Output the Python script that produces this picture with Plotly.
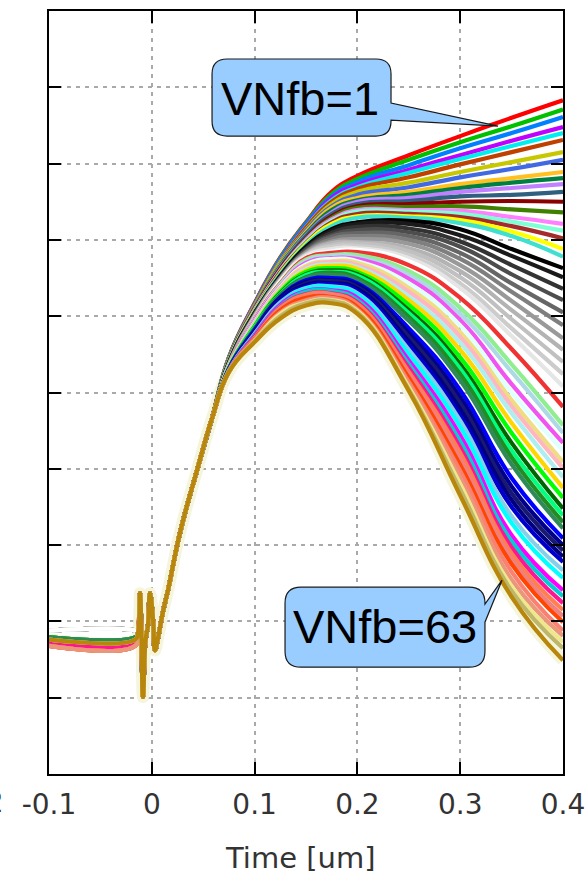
import plotly.graph_objects as go

# ---- time base (um) ----
time_onset = [-0.1, -0.0163, -0.0134, -0.0115, -0.0100, -0.0086, -0.0061, -0.0037,
              -0.0018, 0.0012, 0.0031, 0.0060, 0.0109, 0.0158, 0.0274, 0.0440, 0.0586]
time_tail = [0.075, 0.1, 0.125, 0.15, 0.175, 0.2, 0.25, 0.3, 0.35, 0.4]

# common pick-up glitch and leading edge (from t = -0.0134 to 0.0586)
onset_shared = [1.85, 2.37, 1.75, 1.01, 1.75, 1.95, 2.37, 2.02, 1.62, 1.78,
                2.13, 2.41, 3.16, 3.98, 4.66]

# pre-trigger baseline of each VNfb setting (1..63)
baseline = [1.78, 1.78, 1.78, 1.78, 1.78, 1.78, 1.78, 1.78, 1.78, 1.78,
            1.78, 1.78, 1.78, 1.78, 1.78, 1.78, 1.78, 1.78, 1.78,
            1.88, 1.88, 1.88, 1.88, 1.88, 1.88, 1.88, 1.88, 1.88, 1.88, 1.88, 1.88,
            1.79, 1.79, 1.79, 1.79, 1.79, 1.79, 1.79, 1.79, 1.79, 1.79, 1.79, 1.79, 1.79, 1.79,
            1.72, 1.72, 1.72, 1.72, 1.72, 1.72, 1.72, 1.72, 1.72, 1.72,
            1.68, 1.68, 1.68, 1.68, 1.68,
            1.76, 1.76, 1.76]

# shaper output after the leading edge, VNfb = 1..19
tail_upper = [
    [5.46, 6.17, 6.77, 7.23, 7.63, 7.84, 8.11, 8.36, 8.60, 8.83],
    [5.46, 6.16, 6.76, 7.22, 7.60, 7.80, 8.05, 8.28, 8.49, 8.71],
    [5.45, 6.16, 6.75, 7.21, 7.57, 7.76, 7.98, 8.20, 8.40, 8.61],
    [5.45, 6.15, 6.73, 7.18, 7.55, 7.72, 7.92, 8.11, 8.30, 8.48],
    [5.44, 6.14, 6.72, 7.17, 7.52, 7.69, 7.88, 8.06, 8.23, 8.40],
    [5.44, 6.14, 6.71, 7.16, 7.50, 7.67, 7.82, 7.99, 8.15, 8.31],
    [5.44, 6.13, 6.70, 7.13, 7.47, 7.63, 7.75, 7.89, 8.02, 8.15],
    [5.43, 6.12, 6.68, 7.12, 7.44, 7.59, 7.69, 7.82, 7.93, 8.05],
    [5.43, 6.12, 6.67, 7.10, 7.42, 7.55, 7.63, 7.73, 7.81, 7.89],
    [5.43, 6.11, 6.66, 7.08, 7.39, 7.52, 7.59, 7.68, 7.75, 7.81],
    [5.42, 6.10, 6.64, 7.06, 7.36, 7.50, 7.55, 7.63, 7.68, 7.73],
    [5.42, 6.10, 6.63, 7.05, 7.34, 7.47, 7.51, 7.57, 7.59, 7.63],
    [5.42, 6.09, 6.62, 7.02, 7.31, 7.44, 7.47, 7.50, 7.51, 7.50],
    [5.41, 6.08, 6.60, 7.01, 7.29, 7.42, 7.43, 7.44, 7.40, 7.36],
    [5.41, 6.08, 6.60, 7.00, 7.27, 7.39, 7.39, 7.38, 7.30, 7.21],
    [5.41, 6.07, 6.59, 6.98, 7.25, 7.37, 7.37, 7.34, 7.24, 7.12],
    [5.40, 6.06, 6.58, 6.96, 7.23, 7.34, 7.34, 7.30, 7.18, 7.02],
    [5.40, 6.06, 6.56, 6.95, 7.21, 7.31, 7.31, 7.26, 7.11, 6.88],
    [5.40, 6.05, 6.55, 6.93, 7.18, 7.29, 7.29, 7.22, 7.05, 6.78],
]

# VNfb = 20..31 (grey ramp)
tail_grey = [
    [5.39, 6.04, 6.53, 6.91, 7.14, 7.23, 7.25, 7.14, 6.88, 6.63],
    [5.39, 6.03, 6.51, 6.89, 7.12, 7.21, 7.21, 7.06, 6.79, 6.51],
    [5.37, 6.03, 6.51, 6.88, 7.09, 7.17, 7.15, 6.98, 6.67, 6.36],
    [5.37, 6.01, 6.50, 6.87, 7.06, 7.13, 7.10, 6.91, 6.55, 6.21],
    [5.37, 6.01, 6.50, 6.85, 7.04, 7.09, 7.05, 6.83, 6.43, 6.05],
    [5.36, 6.00, 6.49, 6.84, 7.01, 7.05, 7.00, 6.75, 6.32, 5.88],
    [5.36, 6.00, 6.49, 6.83, 6.98, 7.01, 6.95, 6.67, 6.20, 5.71],
    [5.36, 5.99, 6.47, 6.81, 6.96, 6.97, 6.89, 6.59, 6.08, 5.56],
    [5.35, 5.99, 6.47, 6.81, 6.93, 6.95, 6.85, 6.51, 5.96, 5.40],
    [5.35, 5.97, 6.46, 6.80, 6.91, 6.92, 6.80, 6.43, 5.84, 5.24],
    [5.35, 5.97, 6.46, 6.79, 6.88, 6.89, 6.76, 6.37, 5.74, 5.08],
    [5.35, 5.96, 6.45, 6.77, 6.85, 6.87, 6.72, 6.30, 5.63, 4.95],
]

# VNfb = 32..63
tail_lower = [
    [5.35, 5.96, 6.43, 6.76, 6.83, 6.84, 6.67, 6.24, 5.57, 4.81],
    [5.35, 5.95, 6.42, 6.74, 6.80, 6.80, 6.59, 6.11, 5.37, 4.57],
    [5.33, 5.95, 6.41, 6.72, 6.79, 6.77, 6.54, 6.03, 5.27, 4.47],
    [5.33, 5.94, 6.39, 6.70, 6.76, 6.75, 6.49, 5.95, 5.11, 4.34],
    [5.33, 5.92, 6.38, 6.68, 6.75, 6.72, 6.43, 5.88, 5.00, 4.24],
    [5.33, 5.91, 6.37, 6.66, 6.72, 6.70, 6.37, 5.79, 4.90, 4.09],
    [5.32, 5.91, 6.36, 6.64, 6.71, 6.67, 6.32, 5.73, 4.82, 4.01],
    [5.32, 5.90, 6.34, 6.62, 6.68, 6.64, 6.26, 5.65, 4.73, 3.89],
    [5.32, 5.88, 6.33, 6.60, 6.66, 6.62, 6.21, 5.56, 4.60, 3.75],
    [5.32, 5.87, 6.32, 6.58, 6.63, 6.58, 6.15, 5.46, 4.47, 3.62],
    [5.31, 5.86, 6.30, 6.55, 6.60, 6.55, 6.08, 5.37, 4.34, 3.48],
    [5.31, 5.86, 6.29, 6.54, 6.58, 6.53, 6.04, 5.31, 4.24, 3.39],
    [5.31, 5.84, 6.28, 6.51, 6.57, 6.50, 5.99, 5.24, 4.15, 3.30],
    [5.31, 5.83, 6.26, 6.50, 6.54, 6.47, 5.94, 5.16, 4.06, 3.22],
    [5.31, 5.82, 6.25, 6.47, 6.50, 6.43, 5.84, 5.03, 3.88, 3.09],
    [5.29, 5.80, 6.24, 6.45, 6.47, 6.41, 5.78, 4.94, 3.77, 3.00],
    [5.29, 5.80, 6.22, 6.43, 6.46, 6.38, 5.73, 4.86, 3.68, 2.93],
    [5.29, 5.79, 6.21, 6.41, 6.43, 6.36, 5.67, 4.78, 3.59, 2.85],
    [5.29, 5.78, 6.20, 6.39, 6.42, 6.33, 5.62, 4.70, 3.50, 2.78],
    [5.29, 5.77, 6.18, 6.37, 6.39, 6.30, 5.56, 4.63, 3.38, 2.67],
    [5.28, 5.75, 6.16, 6.36, 6.38, 6.28, 5.50, 4.55, 3.29, 2.57],
    [5.28, 5.75, 6.15, 6.33, 6.34, 6.24, 5.42, 4.44, 3.13, 2.41],
    [5.28, 5.74, 6.13, 6.32, 6.33, 6.21, 5.37, 4.36, 3.05, 2.33],
    [5.28, 5.73, 6.12, 6.29, 6.30, 6.18, 5.32, 4.28, 2.97, 2.24],
    [5.28, 5.71, 6.11, 6.28, 6.29, 6.16, 5.27, 4.21, 2.89, 2.15],
    [5.28, 5.71, 6.09, 6.25, 6.28, 6.13, 5.23, 4.13, 2.82, 2.07],
    [5.27, 5.70, 6.08, 6.24, 6.25, 6.12, 5.19, 4.05, 2.75, 1.99],
    [5.27, 5.69, 6.05, 6.21, 6.24, 6.09, 5.14, 3.97, 2.65, 1.88],
    [5.27, 5.69, 6.04, 6.20, 6.22, 6.08, 5.10, 3.88, 2.55, 1.81],
    [5.27, 5.67, 6.03, 6.18, 6.21, 6.07, 5.07, 3.80, 2.46, 1.73],
    [5.27, 5.67, 6.00, 6.17, 6.20, 6.05, 5.04, 3.73, 2.40, 1.65],
    [5.27, 5.66, 5.97, 6.14, 6.17, 6.03, 5.02, 3.65, 2.32, 1.49],
]

# wide pale trace underneath the family
beige_baseline = 1.76
beige_tail = [5.27, 5.66, 5.97, 6.14, 6.17, 6.03, 5.02, 3.65, 2.32, 1.49]

line_colors = [
    "#ff0000", "#00c000", "#0080ff", "#c000ff", "#00eeee", "#c04000", "#c8c800",
    "#4169e1", "#ffc020", "#008040", "#c080ff", "#306080", "#8b0000", "#408000",
    "#ff80ff", "#7fffd4", "#a52a2a", "#ffff00", "#40e0d0",
    "#000000", "#1a1a1a", "#333333", "#4d4d4d", "#666666", "#7f7f7f", "#999999",
    "#b3b3b3", "#c0c0c0", "#cccccc", "#e5e5e5", "#ffffff",
    "#f03232", "#90ee90", "#add8e6", "#f055f0", "#e0ffff", "#eedd82", "#ffb6c1",
    "#afeeee", "#ffd700", "#00ff00", "#006400", "#00ff7f", "#228b22", "#2e8b57",
    "#0000ff", "#00008b", "#191970", "#000080", "#0000cd", "#87ceeb", "#00ffff",
    "#ff00ff", "#00ced1", "#ff1493", "#ff7f50", "#f08080", "#ff4500", "#fa8072",
    "#e9967a", "#f0e68c", "#bdb76b", "#b8860b",
]
vnfb_labels = [f"VNfb={i + 1}" for i in range(63)]

tail_rows = tail_upper + tail_grey + tail_lower
time_all = time_onset + time_tail

fig = go.Figure()

fig.add_trace(go.Scatter(
    x=time_all,
    y=[beige_baseline, beige_baseline] + onset_shared + beige_tail,
    mode="lines", line=dict(color="#f5f5dc", width=12, shape="spline", smoothing=1.3),
    name="VNfb=0", hoverinfo="skip"))

for k in range(63):
    fig.add_trace(go.Scatter(
        x=time_all,
        y=[baseline[k], baseline[k]] + onset_shared + tail_rows[k],
        mode="lines",
        line=dict(color=line_colors[k], width=4.2, shape="spline", smoothing=1.3),
        name=vnfb_labels[k]))

# ---- axes ----
PLOT_L, PLOT_R, PLOT_T, PLOT_B = 49, 24, 11, 101
W, H = 587, 875
X_RANGE = [-0.1, 0.4]
Y_RANGE = [0, 10]
px_per_x = (W - PLOT_L - PLOT_R) / (X_RANGE[1] - X_RANGE[0])
px_per_y = (H - PLOT_T - PLOT_B) / (Y_RANGE[1] - Y_RANGE[0])

axis_style = dict(
    showline=True, linewidth=2, linecolor="black", mirror="ticks",
    ticks="inside", ticklen=12, tickwidth=2, tickcolor="black",
    showgrid=True, gridcolor="#a9a9a9", gridwidth=2, griddash="4px,5px",
    zeroline=False, automargin=False,
)
fig.update_xaxes(range=X_RANGE,
                 tickvals=[-0.1, 0, 0.1, 0.2, 0.3, 0.4],
                 ticktext=["-0.1", "0", "0.1", "0.2", "0.3", "0.4"],
                 tickfont=dict(family="DejaVu Sans", size=28, color="#333333"),
                 ticklabelstandoff=4, **axis_style)
fig.update_yaxes(range=Y_RANGE, tick0=0, dtick=1, showticklabels=False, **axis_style)


def callout_path(x0, x1, ybot, ytop, tail_hi, tail_lo, tip, r_px):
    rx = r_px / px_per_x
    ry = r_px / px_per_y
    pts = [
        f"M {x0 + rx:.5f},{ytop:.4f}",
        f"L {x1 - rx:.5f},{ytop:.4f}",
        f"Q {x1:.5f},{ytop:.4f} {x1:.5f},{ytop - ry:.4f}",
        f"L {x1:.5f},{tail_hi:.4f}",
        f"L {tip[0]:.5f},{tip[1]:.4f}",
        f"L {x1:.5f},{tail_lo:.4f}",
        f"L {x1:.5f},{ybot + ry:.4f}",
        f"Q {x1:.5f},{ybot:.4f} {x1 - rx:.5f},{ybot:.4f}",
        f"L {x0 + rx:.5f},{ybot:.4f}",
        f"Q {x0:.5f},{ybot:.4f} {x0:.5f},{ybot + ry:.4f}",
        f"L {x0:.5f},{ytop - ry:.4f}",
        f"Q {x0:.5f},{ytop:.4f} {x0 + rx:.5f},{ytop:.4f}",
        "Z",
    ]
    return " ".join(pts)


callouts = [
    dict(text="VNfb=1", box=(0.0586, 0.2327, 8.361, 9.371), tail=(8.794, 8.571),
         tip=(0.3368, 8.492), r=15, label_at=(0.1442, 8.853)),
    dict(text="VNfb=63", box=(0.1296, 0.3241, 1.400, 2.448), tail=(2.226, 1.990),
         tip=(0.3407, 2.540), r=16, label_at=(0.2264, 1.931)),
]
for c in callouts:
    x0, x1, yb, yt = c["box"]
    fig.add_shape(type="path", xref="x", yref="y",
                  path=callout_path(x0, x1, yb, yt, c["tail"][0], c["tail"][1], c["tip"], c["r"]),
                  fillcolor="#99ccff", line=dict(color="#1a1a1a", width=1.2), layer="above")
    fig.add_annotation(x=c["label_at"][0], y=c["label_at"][1], xref="x", yref="y",
                       text=c["text"], showarrow=False, xanchor="center", yanchor="middle",
                       font=dict(family="Liberation Sans", size=47, color="black"))

# axis title and the neighbouring panel's last tick label
fig.add_annotation(x=0.4883, y=-0.110, xref="paper", yref="paper", text="Time [um]",
                   showarrow=False, xanchor="center", yanchor="middle",
                   font=dict(family="DejaVu Sans", size=29, color="#333333"))
fig.add_annotation(x=-0.0837, y=-0.038, xref="paper", yref="paper", text="0.2",
                   showarrow=False, xanchor="right", yanchor="middle",
                   font=dict(family="DejaVu Sans", size=28, color="#333333"))

fig.update_layout(width=W, height=H,
                  margin=dict(l=PLOT_L, r=PLOT_R, t=PLOT_T, b=PLOT_B, pad=0, autoexpand=False),
                  paper_bgcolor="white", plot_bgcolor="white", showlegend=False)

fig.write_html("out.html")
